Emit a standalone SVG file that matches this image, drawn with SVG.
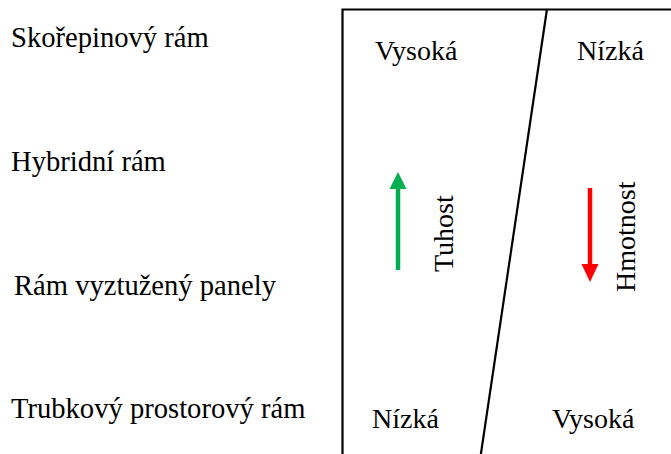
<svg xmlns="http://www.w3.org/2000/svg" width="671" height="454" viewBox="0 0 671 454">
<style>
text{font-family:"Liberation Serif","Times New Roman",serif;font-size:28px;fill:#000}
#labels text{font-size:28.6px}
.ln{stroke:#000;stroke-width:2.2;fill:none}
</style>
<rect width="671" height="454" fill="#fff"/>
<g id="labels">
<text x="11" y="47">Skořepinový rám</text>
<text x="11" y="171">Hybridní rám</text>
<text x="14" y="295">Rám vyztužený panely</text>
<text x="11" y="418">Trubkový prostorový rám</text>
</g>
<g id="box">
<path class="ln" d="M342.5,470 V9.5 H690"/>
<path class="ln" d="M547,9 L480,460"/>
</g>
<g id="values">
<text x="375" y="60">Vysoká</text>
<text x="577" y="60">Nízká</text>
<text x="372" y="428">Nízká</text>
<text x="552" y="428">Vysoká</text>
</g>
<g id="connectors">
<path d="M398,270 V188" stroke="#00B050" stroke-width="4.5"/>
<polygon points="389.5,189 406.5,189 398,172" fill="#00B050"/>
<path d="M590,188 V265" stroke="#FF0000" stroke-width="4.5"/>
<polygon points="581.5,264 598.5,264 590,282" fill="#FF0000"/>
</g>
<g id="axis-labels">
<text transform="translate(453,272) rotate(-90)">Tuhost</text>
<text transform="translate(635,292) rotate(-90)">Hmotnost</text>
</g>
</svg>
